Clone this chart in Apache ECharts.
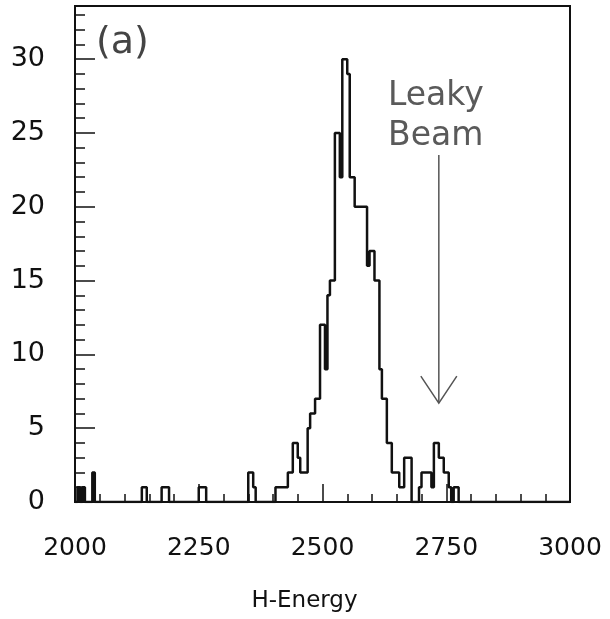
<!DOCTYPE html>
<html>
<head>
<meta charset="utf-8">
<script src="https://cdn.jsdelivr.net/npm/echarts@6/dist/echarts.min.js"></script>
<style>
  html, body { margin: 0; padding: 0; background: #fff; }
  #chart { width: 610px; height: 619px; }
</style>
</head>
<body>
<div id="chart"></div>
<script>
// histogram of H-Energy, bins of 5 from 2000 to 3000
const binStart = 2000
const binWidth = 5
const counts = [
  // 2000 - 2095
  0, 1, 0, 1, 0, 0, 0, 2, 0, 0, 0, 0, 0, 0, 0, 0, 0, 0, 0, 0,
  // 2100 - 2195
  0, 0, 0, 0, 0, 0, 0, 1, 1, 0, 0, 0, 0, 0, 0, 1, 1, 1, 0, 0,
  // 2200 - 2295
  0, 0, 0, 0, 0, 0, 0, 0, 0, 0, 1, 1, 1, 0, 0, 0, 0, 0, 0, 0,
  // 2300 - 2395
  0, 0, 0, 0, 0, 0, 0, 0, 0, 0, 2, 2, 1, 0, 0, 0, 0, 0, 0, 0,
  // 2400 - 2495
  0, 1, 1, 1, 1, 1, 2, 2, 4, 4, 3, 2, 2, 2, 5, 6, 6, 7, 7, 12,
  // 2500 - 2595
  12, 9, 14, 15, 15, 25, 25, 22, 30, 30, 29, 22, 22, 20, 20, 20, 20, 20, 16, 17,
  // 2600 - 2695
  17, 15, 15, 9, 7, 7, 4, 4, 2, 2, 2, 1, 1, 3, 3, 3, 0, 0, 0, 1,
  // 2700 - 2795
  2, 2, 2, 2, 1, 4, 4, 3, 3, 2, 2, 1, 0, 1, 1, 0, 0, 0, 0, 0,
  // 2800 - 2995
  0, 0, 0, 0, 0, 0, 0, 0, 0, 0, 0, 0, 0, 0, 0, 0, 0, 0, 0, 0,
  0, 0, 0, 0, 0, 0, 0, 0, 0, 0, 0, 0, 0, 0, 0, 0, 0, 0, 0, 0
]
const xMin = 2000
const xMax = 3000
const yMin = 0
const yMax = 33.6
// arrow pointing at the leaky beam bump
const arrowEnergy = 2735
const arrowTop = 23.5
const arrowTip = 6.7

const font = 'DejaVu Sans'
const ink = '#111'

// step line points: left edge of every bin, plus the closing edge
let histData = counts.map((c, i) => [binStart + i * binWidth, c])
histData.push([binStart + counts.length * binWidth, 0])

let myChart = echarts.init(document.getElementById('chart'))

let Option = {
  animation: false,
  backgroundColor: '#fff',
  grid: {
    left: 75,
    right: 40,
    top: 6,
    bottom: 117,
    show: true,
    borderColor: ink,
    borderWidth: 2,
    backgroundColor: 'transparent'
  },
  xAxis: [
    {
      // small ticks every 50
      type: 'value',
      min: xMin,
      max: xMax,
      interval: 50,
      axisLine: { show: false },
      axisTick: { inside: true, length: 8, lineStyle: { color: ink, width: 1.5 } },
      axisLabel: { show: false },
      splitLine: { show: false }
    },
    {
      // big ticks and labels every 250
      type: 'value',
      min: xMin,
      max: xMax,
      interval: 250,
      position: 'bottom',
      axisLine: { show: false },
      axisTick: { inside: true, length: 18, lineStyle: { color: ink, width: 1.5 } },
      axisLabel: {
        margin: 34,
        fontFamily: font,
        fontSize: 25,
        color: ink,
        formatter: v => String(v)
      },
      splitLine: { show: false },
      name: 'H-Energy',
      nameLocation: 'middle',
      nameGap: 88,
      nameTextStyle: { fontFamily: font, fontSize: 23, color: ink, padding: [0, 36, 0, 0] }
    }
  ],
  yAxis: [
    {
      type: 'value',
      min: yMin,
      max: yMax,
      interval: 1,
      axisLine: { show: false },
      axisTick: { inside: true, length: 10, lineStyle: { color: ink, width: 1.5 } },
      axisLabel: { show: false },
      splitLine: { show: false }
    },
    {
      type: 'value',
      min: yMin,
      max: yMax,
      interval: 5,
      position: 'left',
      axisLine: { show: false },
      axisTick: { inside: true, length: 20, lineStyle: { color: ink, width: 1.5 } },
      axisLabel: {
        margin: 30,
        fontFamily: font,
        fontSize: 27,
        color: ink,
        formatter: v => (v % 5 === 0 ? String(v) : '')
      },
      splitLine: { show: false }
    }
  ],
  series: [
    {
      type: 'line',
      step: 'end',
      xAxisIndex: 0,
      yAxisIndex: 0,
      showSymbol: false,
      lineStyle: { color: ink, width: 2.5 },
      data: histData
    }
  ]
}
myChart.setOption(Option)

// annotations: (a), Leaky Beam and the arrow
let arrowStart = myChart.convertToPixel({ seriesIndex: 0 }, [arrowEnergy, arrowTop])
let arrowEnd = myChart.convertToPixel({ seriesIndex: 0 }, [arrowEnergy, arrowTip])
myChart.setOption({
  graphic: [
    {
      type: 'text',
      left: 96,
      top: 24,
      style: { text: '(a)', fontFamily: font, fontSize: 38, fill: '#444' }
    },
    {
      type: 'text',
      left: 388,
      top: 76,
      style: { text: 'Leaky\nBeam', fontFamily: font, fontSize: 33, lineHeight: 40, fill: '#5a5a5a' }
    },
    {
      type: 'line',
      shape: { x1: arrowStart[0], y1: arrowStart[1], x2: arrowEnd[0], y2: arrowEnd[1] },
      style: { stroke: '#555', lineWidth: 1.5 }
    },
    {
      type: 'polyline',
      shape: {
        points: [
          [arrowEnd[0] - 18, arrowEnd[1] - 27],
          [arrowEnd[0], arrowEnd[1]],
          [arrowEnd[0] + 18, arrowEnd[1] - 27]
        ]
      },
      style: { stroke: '#555', lineWidth: 1.5, fill: null }
    }
  ]
})
</script>
</body>
</html>
